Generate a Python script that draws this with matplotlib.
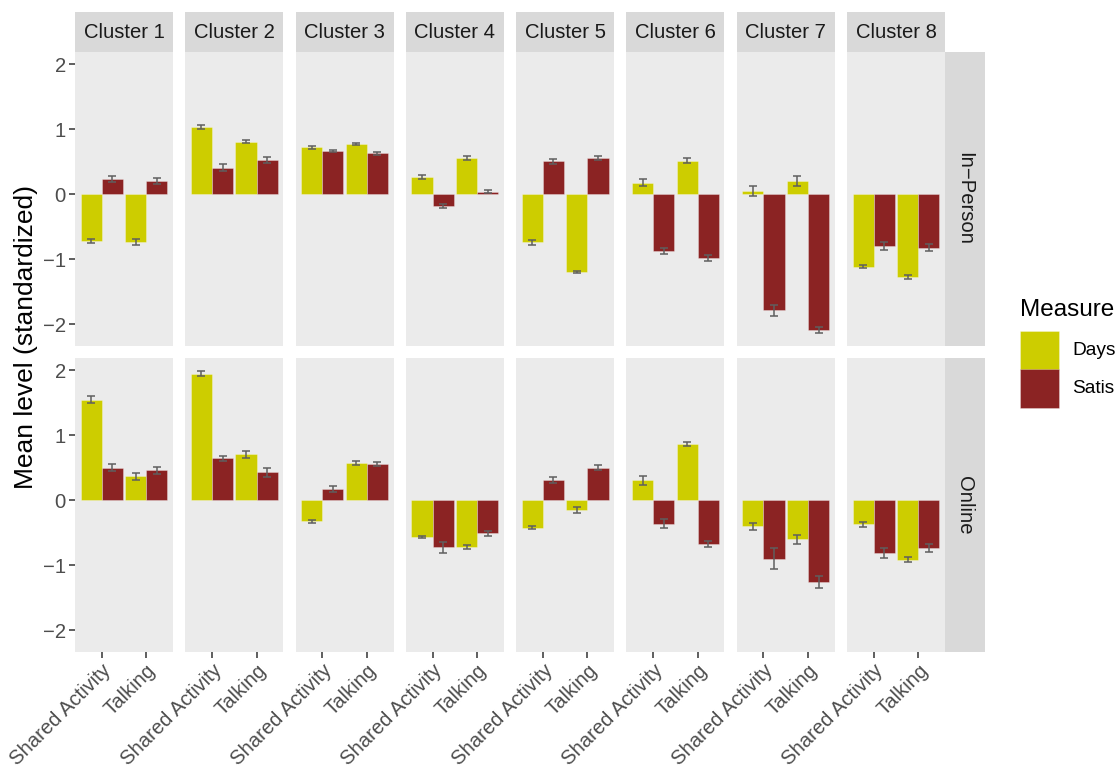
import numpy as np
import matplotlib
matplotlib.use("Agg")
import matplotlib.pyplot as plt
from matplotlib.patches import Rectangle

# ---- data -------------------------------------------------------------
clusters = [f"Cluster {i}" for i in range(1, 9)]
modes = ["In\u2212Person", "Online"]
activities = ["Shared Activity", "Talking"]
measures = ["Days", "Satis"]

# (Shared Activity, Talking) per cluster
inperson_days_mean = [(-0.71, -0.73), (1.03, 0.81), (0.725, 0.775), (0.26, 0.56),
                      (-0.74, -1.19), (0.18, 0.52), (0.05, 0.21), (-1.11, -1.27)]
inperson_days_se = [(0.031, 0.051), (0.031, 0.023), (0.023, 0.015), (0.031, 0.026),
                    (0.038, 0.018), (0.056, 0.041), (0.079, 0.079), (0.023, 0.026)]
inperson_satis_mean = [(0.24, 0.21), (0.41, 0.53), (0.66, 0.63), (-0.18, 0.04),
                       (0.51, 0.56), (-0.87, -0.975), (-1.78, -2.08), (-0.80, -0.82)]
inperson_satis_se = [(0.043, 0.046), (0.056, 0.043), (0.015, 0.018), (0.031, 0.026),
                     (0.036, 0.033), (0.051, 0.046), (0.084, 0.046), (0.061, 0.056)]

online_days_mean = [(1.55, 0.37), (1.95, 0.71), (-0.32, 0.57), (-0.56, -0.71),
                    (-0.42, -0.15), (0.31, 0.86), (-0.40, -0.60), (-0.37, -0.91)]
online_days_se = [(0.048, 0.056), (0.033, 0.056), (0.023, 0.031), (0.015, 0.031),
                  (0.028, 0.048), (0.071, 0.031), (0.051, 0.074), (0.033, 0.033)]
online_satis_mean = [(0.505, 0.46), (0.65, 0.43), (0.17, 0.56), (-0.72, -0.505),
                     (0.32, 0.505), (-0.36, -0.67), (-0.90, -1.26), (-0.81, -0.73)]
online_satis_se = [(0.051, 0.051), (0.038, 0.066), (0.046, 0.026), (0.082, 0.041),
                   (0.046, 0.038), (0.066, 0.046), (0.163, 0.092), (0.079, 0.061)]

y_ticks = [-2, -1, 0, 1, 2]

# ---- style ------------------------------------------------------------
plt.rcParams["font.family"] = ["Liberation Sans", "DejaVu Sans"]
FILL = {"Days": "#CDCD00", "Satis": "#8B2323"}
EDGE = (1, 1, 1, 0.35)
PANEL_BG = "#EBEBEB"
STRIP_BG = "#D9D9D9"
ERR_COL = "#5F5F5F"
SMALL = 14.6
LEGEND_TXT = 13.8
LARGE = 17.5
AXIS_TITLE = 19

W, H = 1118, 770
fig = plt.figure(figsize=(W / 100, H / 100), dpi=100)


def px_axes(left, top, width, height, **kw):
    return fig.add_axes([left / W, 1 - (top + height) / H, width / W, height / H], **kw)


def fx(px):
    return px / W


def fy(px):
    return 1 - px / H


rows = {
    modes[0]: {"Days": (inperson_days_mean, inperson_days_se),
               "Satis": (inperson_satis_mean, inperson_satis_se)},
    modes[1]: {"Days": (online_days_mean, online_days_se),
               "Satis": (online_satis_mean, online_satis_se)},
}

# shared y range with 5% expansion, like ggplot's continuous scale
lo = min(min(m - s for mm, ss in zip(*rows[r][k]) for m, s in zip(mm, ss))
         for r in modes for k in measures)
hi = max(max(m + s for mm, ss in zip(*rows[r][k]) for m, s in zip(mm, ss))
         for r in modes for k in measures)
pad = 0.05 * (hi - lo)
ylim = (lo - pad, hi + pad)

panel_left0, panel_w, panel_step = 75, 98, 110.29
row_tops = [52, 358]
panel_h = 294
dodge = 0.95
bar_w = dodge / 2
x = np.arange(1, len(activities) + 1)

for r, mode in enumerate(modes):
    for c, cl in enumerate(clusters):
        left = panel_left0 + c * panel_step
        ax = px_axes(left, row_tops[r], panel_w, panel_h)
        ax.set_facecolor(PANEL_BG)
        for sp in ax.spines.values():
            sp.set_visible(False)
        for k, meas in enumerate(measures):
            means, ses = rows[mode][meas]
            xs = x + (k - 0.5) * bar_w
            ax.bar(xs, means[c], width=bar_w, color=FILL[meas],
                   edgecolor=EDGE, linewidth=0.6, zorder=2)
            ax.errorbar(xs, means[c], yerr=ses[c], fmt="none", ecolor=ERR_COL,
                        elinewidth=1.1, capsize=2.9, capthick=1.1, zorder=3)
        ax.set_xlim(0.4, len(activities) + 0.6)
        ax.set_ylim(*ylim)
        ax.set_yticks(y_ticks)
        ax.set_xticks(x)
        ax.tick_params(colors="#333333", labelcolor="#4D4D4D", labelsize=SMALL,
                       length=4, width=1.1, pad=2.5)
        if c == 0:
            ax.set_yticklabels([f"{t:d}".replace("-", "\u2212") for t in y_ticks])
        else:
            ax.tick_params(axis="y", length=0, labelleft=False)
        if r == len(modes) - 1:
            ax.set_xticklabels(activities, rotation=45, ha="right", va="top",
                               rotation_mode="anchor")
        else:
            ax.tick_params(axis="x", length=0, labelbottom=False)

        # column strips
        if r == 0:
            sax = px_axes(left, 12, panel_w, 40)
            sax.set_facecolor(STRIP_BG)
            sax.set_xticks([]); sax.set_yticks([])
            for sp in sax.spines.values():
                sp.set_visible(False)
            sax.text(0.5, 0.5, cl, ha="center", va="center", fontsize=SMALL,
                     color="#1A1A1A", transform=sax.transAxes)

    # row strips
    rax = px_axes(945, row_tops[r], 40, panel_h)
    rax.set_facecolor(STRIP_BG)
    rax.set_xticks([]); rax.set_yticks([])
    for sp in rax.spines.values():
        sp.set_visible(False)
    rax.text(0.5, 0.5, mode, ha="center", va="center", rotation=-90,
             fontsize=SMALL, color="#1A1A1A", transform=rax.transAxes)

fig.text(fx(26), fy(337), "Mean level (standardized)", rotation=90,
         ha="center", va="center", fontsize=AXIS_TITLE, color="black")

# legend for the fill scale
fig.text(fx(1020), fy(316), "Measure", ha="left", va="baseline",
         fontsize=LARGE, color="black")
key_top, key_size = 331, 38.5
for k, meas in enumerate(measures):
    top = key_top + k * key_size
    fig.patches.append(Rectangle((fx(1020), fy(top + key_size)),
                                 key_size / W, key_size / H,
                                 transform=fig.transFigure, facecolor=FILL[meas],
                                 edgecolor=EDGE, linewidth=0.6))
    fig.text(fx(1072), fy(top + key_size / 2), meas, ha="left", va="center",
             fontsize=LEGEND_TXT, color="black")

fig.savefig("out.png", dpi=100)
